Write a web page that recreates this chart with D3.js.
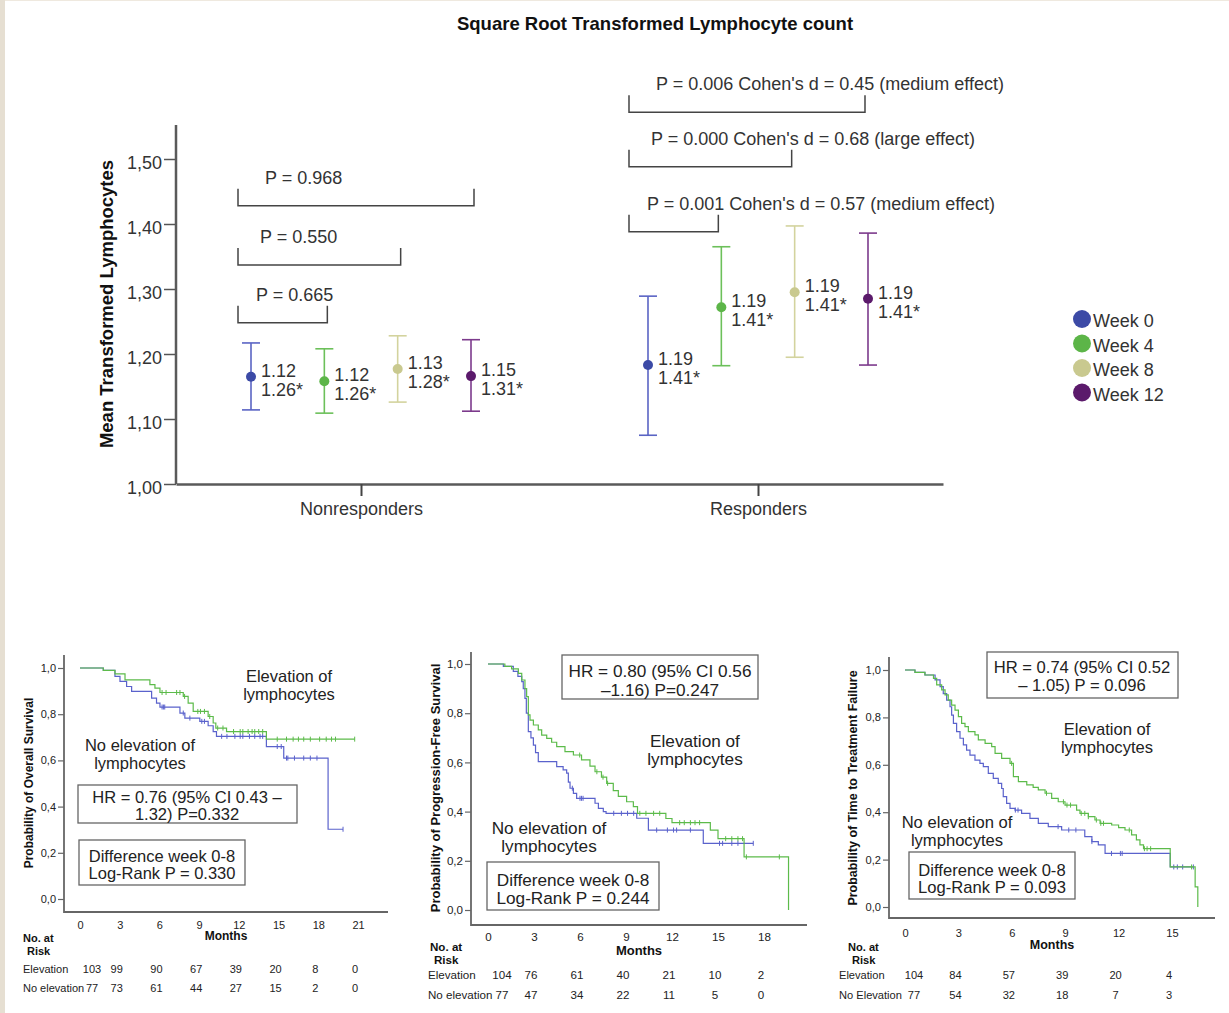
<!DOCTYPE html>
<html lang="en">
<head>
<meta charset="UTF-8">
<title>Square Root Transformed Lymphocyte count</title>
<script src="https://cdn.jsdelivr.net/npm/d3@7/dist/d3.min.js"></script>
<style>
    body { margin: 0; background: #fff; }
    svg { display: block; font-family: "Liberation Sans", Arial, sans-serif; }
</style>
</head>
<body>
<svg width="1229" height="1013"></svg>
<script>
    // ---------- top chart: means with 95% CI ----------
    var groups = ['Nonresponders', 'Responders'];
    var weeks = ['Week 0', 'Week 4', 'Week 8', 'Week 12'];
    var yTicks = [1.0, 1.1, 1.2, 1.3, 1.4, 1.5];
    var nrMean = [1.165, 1.158, 1.177, 1.166];
    var nrLow = [1.114, 1.109, 1.126, 1.112];
    var nrHigh = [1.217, 1.208, 1.228, 1.222];
    var rMean = [1.183, 1.272, 1.295, 1.285];
    var rLow = [1.075, 1.182, 1.195, 1.183];
    var rHigh = [1.289, 1.365, 1.397, 1.386];
    var nrLabels = [['1.12', '1.26*'], ['1.12', '1.26*'], ['1.13', '1.28*'], ['1.15', '1.31*']];
    var rLabels = [['1.19', '1.41*'], ['1.19', '1.41*'], ['1.19', '1.41*'], ['1.19', '1.41*']];
    // [from week, to week, bracket level, text]
    var nrTests = [[0, 3, 1.428, 'P = 0.968'], [0, 2, 1.337, 'P = 0.550'], [0, 1, 1.248, 'P = 0.665']];
    var rTests = [[0, 3, 1.572, "P = 0.006 Cohen's d = 0.45 (medium effect)"],
                  [0, 2, 1.488, "P = 0.000 Cohen's d = 0.68 (large effect)"],
                  [0, 1, 1.388, "P = 0.001 Cohen's d = 0.57 (medium effect)"]];

    // ---------- Kaplan-Meier panels ----------
    var kmYTicks = [0, 0.2, 0.4, 0.6, 0.8, 1.0];

    var osMonths = [0, 3, 6, 9, 12, 15, 18, 21];
    var osRiskElev = [103, 99, 90, 67, 39, 20, 8, 0];
    var osRiskNo = [77, 73, 61, 44, 27, 15, 2, 0];
    var osElev = [[0, 1], [1.76, 0.99], [2.64, 0.975], [3.40, 0.949], [5.28, 0.928], [5.66, 0.913], [6.04, 0.894],
        [7.80, 0.877], [8.17, 0.848], [8.55, 0.812], [9.68, 0.79], [10.06, 0.762], [10.26, 0.74], [11.07, 0.725], [14.08, 0.692]];
    var osElevEnd = 20.75;
    var osElevCens = [6.2, 6.5, 7.3, 7.55, 7.9, 8.9, 9.1, 9.4, 9.8, 10.4, 10.8, 11.6, 12.1, 12.3, 12.7, 13.0, 13.2, 13.5, 13.8,
        14.9, 15.6, 16.1, 16.5, 16.9, 17.4, 18.1, 18.6, 19.0, 19.3, 20.75];
    var osNo = [[0, 1], [1.76, 0.99], [2.64, 0.964], [3.02, 0.942], [3.52, 0.92], [3.90, 0.899], [5.41, 0.87], [5.78, 0.848],
        [6.04, 0.831], [7.55, 0.805], [7.92, 0.783], [9.05, 0.769], [9.68, 0.75], [10.06, 0.725], [10.31, 0.704], [14.08, 0.66],
        [15.39, 0.61], [18.74, 0.302]];
    var osNoEnd = 19.87;
    var osNoCens = [6.2, 6.3, 6.4, 7.8, 8.3, 9.2, 9.4, 10.7, 11.1, 11.7, 12.1, 12.3, 12.8, 13.2, 13.6, 13.8, 14.9, 15.2,
        15.6, 15.7, 16.2, 16.9, 17.4, 17.9, 19.87];

    var pfsMonths = [0, 3, 6, 9, 12, 15, 18];
    var pfsRiskElev = [104, 76, 61, 40, 21, 10, 2];
    var pfsRiskNo = [77, 47, 34, 22, 11, 5, 0];
    var pfsElev = [[0, 1], [1.1, 0.99], [1.54, 0.98], [1.98, 0.962], [2.2, 0.935], [2.41, 0.9], [2.52, 0.867], [2.63, 0.793],
        [2.74, 0.772], [2.96, 0.752], [3.28, 0.732], [3.5, 0.711], [3.83, 0.698], [4.15, 0.682], [4.48, 0.664], [5.02, 0.644],
        [5.57, 0.63], [6.1, 0.61], [6.65, 0.585], [6.98, 0.562], [7.4, 0.54], [7.74, 0.515], [8.17, 0.485], [8.5, 0.462],
        [9.04, 0.44], [9.48, 0.42], [9.75, 0.393], [11.6, 0.372], [12.0, 0.355], [14.5, 0.325], [15.0, 0.29], [16.7, 0.216], [19.6, 0]];
    var pfsElevEnd = 19.6;
    var pfsElevCens = [5.98, 7.1, 7.5, 7.8, 9.9, 10.3, 10.8, 11.2, 12.5, 12.8, 13.2, 13.5, 13.8, 15.5, 15.9, 16.3, 16.6, 16.85, 19.0];
    var pfsNo = [[0, 1], [1.0, 0.99], [1.65, 0.97], [1.95, 0.95], [2.2, 0.928], [2.3, 0.9], [2.41, 0.86], [2.5, 0.8], [2.63, 0.725],
        [2.8, 0.7], [2.96, 0.67], [3.1, 0.64], [3.28, 0.603], [4.48, 0.583], [4.9, 0.57], [5.13, 0.556], [5.24, 0.52], [5.35, 0.495],
        [5.57, 0.474], [5.78, 0.454], [6.98, 0.434], [7.2, 0.413], [7.52, 0.4], [7.7, 0.393], [9.7, 0.373], [10.46, 0.325], [14.04, 0.271]];
    var pfsNoEnd = 17.3;
    var pfsNoCens = [5.5, 6.0, 6.1, 6.2, 8.2, 8.7, 9.1, 9.5, 11.0, 11.7, 12.1, 12.3, 13.2, 15.1, 15.3, 15.9, 16.3, 17.3];

    var ttfMonths = [0, 3, 6, 9, 12, 15];
    var ttfRiskElev = [104, 84, 57, 39, 20, 4];
    var ttfRiskNo = [77, 54, 32, 18, 7, 3];
    var ttfElev = [[0, 1], [0.56, 0.99], [1.12, 0.979], [1.6, 0.965], [1.78, 0.937], [2.06, 0.916], [2.25, 0.895], [2.43, 0.873],
        [2.62, 0.852], [2.81, 0.831], [3.0, 0.803], [3.18, 0.775], [3.37, 0.761], [3.56, 0.74], [3.93, 0.726], [4.12, 0.705],
        [4.5, 0.69], [4.87, 0.677], [5.06, 0.648], [5.43, 0.627], [5.9, 0.606], [6.09, 0.55], [6.37, 0.529], [6.84, 0.515],
        [7.2, 0.505], [7.49, 0.494], [7.87, 0.48], [8.24, 0.458], [8.61, 0.444], [8.99, 0.43], [9.64, 0.409], [9.83, 0.395],
        [10.3, 0.381], [10.67, 0.367], [10.96, 0.353], [11.61, 0.346], [12.0, 0.335], [12.36, 0.325], [12.73, 0.304], [13.0, 0.283],
        [13.2, 0.262], [13.4, 0.246], [14.9, 0.169], [16.3, 0.085], [16.45, 0]];
    var ttfElevEnd = 16.45;
    var ttfElevCens = [5.99, 7.95, 8.9, 9.1, 9.3, 9.9, 10.1, 10.3, 10.75, 11.0, 11.15, 12.6, 13.45, 13.6, 13.8, 16.1];
    var ttfNo = [[0, 1], [0.56, 0.99], [1.12, 0.979], [1.69, 0.958], [1.97, 0.93], [2.15, 0.9], [2.34, 0.873], [2.53, 0.845],
        [2.62, 0.81], [2.72, 0.775], [2.9, 0.74], [3.09, 0.712], [3.28, 0.684], [3.46, 0.662], [3.65, 0.641], [3.93, 0.62],
        [4.21, 0.606], [4.4, 0.592], [4.68, 0.564], [4.96, 0.543], [5.24, 0.522], [5.43, 0.5], [5.52, 0.466], [5.71, 0.437],
        [5.9, 0.416], [6.18, 0.409], [6.55, 0.395], [7.02, 0.374], [7.49, 0.353], [8.05, 0.339], [8.8, 0.325], [10.1, 0.297],
        [10.5, 0.276], [10.86, 0.262], [11.24, 0.226], [14.9, 0.169]];
    var ttfNoEnd = 16.2;
    var ttfNoCens = [6.2, 6.35, 8.6, 9.2, 9.6, 10.5, 11.6, 12.1, 12.2, 15.1, 15.3, 15.6, 16.2];

    // ---------- drawing ----------
    var FONT = '"Liberation Sans", Arial, sans-serif';
    var dotColor = ['#3c4aa6', '#5cb548', '#c9c98f', '#5b1a6b'];
    var barColor = ['#5a64c4', '#6cc05a', '#d3d39e', '#7c3a8c'];
    var kmGreen = '#5cbb4a', kmBlue = '#5a62cc';

    var svg = d3.select('svg');

    // page edge (beige strip on the left)
    svg.append('rect').attr('x', 0).attr('y', 0).attr('width', 1229).attr('height', 1).attr('fill', '#efe9df');
    svg.append('rect').attr('x', 0).attr('y', 0).attr('width', 5).attr('height', 1013).attr('fill', '#e6dfd2');

    var y = d3.scaleLinear().domain([1, 1.5]).range([484, 159]);
    var x0 = d3.scalePoint().domain(groups).range([176, 943]).padding(0.466);
    var xw = d3.scalePoint().domain(weeks).range([-110, 110]);
    var commaFmt = function(p) {
        return function(d) { return d3.format(p)(d).replace('.', ','); };
    };

    var chartG = svg.append('g');

    chartG.append('text')
        .attr('x', 655).attr('y', 30)
        .attr('text-anchor', 'middle')
        .style('font-size', '18.5px').style('font-weight', 'bold').attr('fill', '#111')
        .text('Square Root Transformed Lymphocyte count');

    var yAx = chartG.append('g')
        .attr('transform', 'translate(176,0)')
        .call(d3.axisLeft(y).tickValues(yTicks).tickFormat(commaFmt('.2f')).tickSize(12).tickPadding(2).tickSizeOuter(0));
    yAx.select('.domain').remove();
    yAx.attr('font-family', FONT).attr('font-size', 18);
    yAx.selectAll('line').attr('stroke', '#555').attr('stroke-width', 1.5);
    yAx.selectAll('text').attr('fill', '#333').attr('dy', '0.5em');

    chartG.append('line')
        .attr('x1', 176).attr('x2', 176).attr('y1', 125).attr('y2', y(1))
        .attr('stroke', '#5a5a5a').attr('stroke-width', 2.5);

    var xAx = chartG.append('g')
        .attr('transform', 'translate(0,' + y(1) + ')')
        .call(d3.axisBottom(x0).tickSize(12).tickPadding(6).tickSizeOuter(0));
    xAx.attr('font-family', FONT).attr('font-size', 18);
    xAx.select('.domain').attr('stroke', '#5a5a5a').attr('stroke-width', 2.5);
    xAx.selectAll('line').attr('stroke', '#444').attr('stroke-width', 2);
    xAx.selectAll('text').attr('fill', '#333');

    chartG.append('text')
        .attr('transform', 'translate(113,304) rotate(-90)')
        .attr('text-anchor', 'middle')
        .style('font-size', '18.5px').style('font-weight', 'bold').attr('fill', '#111')
        .text('Mean Transformed Lymphocytes');

    var means = [nrMean, rMean], lows = [nrLow, rLow], highs = [nrHigh, rHigh];
    var labels = [nrLabels, rLabels], tests = [nrTests, rTests];
    var bracketDx = [[-13, 3], [-19, -3]];
    var textDx = [27, 22, 18];

    var rows = [];
    groups.forEach(function(g, gi) {
        weeks.forEach(function(w, wi) {
            rows.push({ g: g, gi: gi, w: w, wi: wi, mean: means[gi][wi], low: lows[gi][wi], high: highs[gi][wi], lab: labels[gi][wi] });
        });
    });

    var pt = chartG.selectAll('.pt').data(rows).enter().append('g')
        .attr('class', 'pt')
        .attr('transform', function(d) { return 'translate(' + (x0(d.g) + xw(d.w)) + ',0)'; });

    pt.append('line')
        .attr('y1', function(d) { return y(d.low); })
        .attr('y2', function(d) { return y(d.high); })
        .attr('stroke', function(d) { return barColor[d.wi]; }).attr('stroke-width', 1.6);
    pt.append('line').attr('x1', -9).attr('x2', 9)
        .attr('y1', function(d) { return y(d.high); }).attr('y2', function(d) { return y(d.high); })
        .attr('stroke', function(d) { return barColor[d.wi]; }).attr('stroke-width', 1.6);
    pt.append('line').attr('x1', -9).attr('x2', 9)
        .attr('y1', function(d) { return y(d.low); }).attr('y2', function(d) { return y(d.low); })
        .attr('stroke', function(d) { return barColor[d.wi]; }).attr('stroke-width', 1.6);
    pt.append('circle')
        .attr('cy', function(d) { return y(d.mean); })
        .attr('r', 5)
        .attr('fill', function(d) { return dotColor[d.wi]; });

    var lab = pt.append('text')
        .attr('x', 10)
        .attr('y', function(d) { return y(d.mean); })
        .style('font-size', '18px').attr('fill', '#333');
    lab.append('tspan').attr('x', 10).text(function(d) { return d.lab[0]; });
    lab.append('tspan').attr('x', 10).attr('dy', 19).text(function(d) { return d.lab[1]; });

    // comparison brackets
    groups.forEach(function(g, gi) {
        tests[gi].forEach(function(t, ti) {
            var xl = x0(g) + xw(weeks[t[0]]) + bracketDx[gi][0];
            var xr = x0(g) + xw(weeks[t[1]]) + bracketDx[gi][1];
            var yb = y(t[2]);
            chartG.append('path')
                .attr('d', 'M' + xl + ',' + (yb - 17) + 'V' + yb + 'H' + xr + 'V' + (yb - 17))
                .attr('fill', 'none').attr('stroke', '#444').attr('stroke-width', 1.5);
            chartG.append('text')
                .attr('x', xl + textDx[ti]).attr('y', yb - 22)
                .style('font-size', '18px').attr('fill', '#333')
                .text(t[3]);
        });
    });

    // legend
    var leg = chartG.selectAll('.leg').data(weeks).enter().append('g')
        .attr('class', 'leg')
        .attr('transform', function(d, i) { return 'translate(1082,' + (319 + i * 24.5) + ')'; });
    leg.append('circle').attr('r', 9).attr('fill', function(d, i) { return dotColor[i]; });
    leg.append('text').attr('x', 11).attr('y', 8)
        .style('font-size', '18px').attr('fill', '#333')
        .text(function(d) { return d; });

    // ---------- KM panels ----------
    var panels = [
        {
            title: 'Probability of Overall Survival', months: osMonths, xMax: 21,
            rowNames: ['Elevation', 'No elevation'], risk: [osRiskElev, osRiskNo],
            elev: osElev, elevEnd: osElevEnd, elevCens: osElevCens, no: osNo, noEnd: osNoEnd, noCens: osNoCens,
            hr: ['HR = 0.76 (95% CI 0.43 \u2013', '1.32) P=0.332'], diff: ['Difference week 0-8', 'Log-Rank P = 0.330'],
            axisX: 64, axisTop: 655, axisY: 912, axisRight: 388, xRange: [80, 358], yRange: [899, 668],
            fsTick: 11, fsTitle: 12, fsNote: 16.5, tickGap: 17, monthsY: 940,
            noAtX: 23, noAtY: [942, 955], rowX: 23, rowY: [973, 992], col0: 12,
            yTitle: [33, 783], elevTxt: [289, 682], noTxt: [140, 751], lineH: 17.5,
            hrBox: [78, 785, 297, 823], hrTxt: [187, 803, 17], diffBox: [79, 840, 245, 885], diffTxt: [162, 862, 16.5]
        },
        {
            title: 'Probability of Progression-Free Survival', months: pfsMonths, xMax: 18,
            rowNames: ['Elevation', 'No elevation'], risk: [pfsRiskElev, pfsRiskNo],
            elev: pfsElev, elevEnd: pfsElevEnd, elevCens: pfsElevCens, no: pfsNo, noEnd: pfsNoEnd, noCens: pfsNoCens,
            hr: ['HR = 0.80 (95% CI 0.56', '\u20131.16) P=0.247'], diff: ['Difference week 0-8', 'Log-Rank P = 0.244'],
            axisX: 471, axisTop: 652, axisY: 925, axisRight: 807, xRange: [488, 764], yRange: [910, 664],
            fsTick: 11.6, fsTitle: 13, fsNote: 17.2, tickGap: 16, monthsY: 955,
            noAtX: 430, noAtY: [951, 964], rowX: 428, rowY: [979, 999], col0: 14,
            yTitle: [440, 788], elevTxt: [695, 747], noTxt: [549, 834], lineH: 18,
            hrBox: [562, 655, 758, 699], hrTxt: [660, 677, 19], diffBox: [487, 862, 659, 910], diffTxt: [573, 886, 18]
        },
        {
            title: 'Probability of Time to Treatment Failure', months: ttfMonths, xMax: 15,
            rowNames: ['Elevation', 'No Elevation'], risk: [ttfRiskElev, ttfRiskNo],
            elev: ttfElev, elevEnd: ttfElevEnd, elevCens: ttfElevCens, no: ttfNo, noEnd: ttfNoEnd, noCens: ttfNoCens,
            hr: ['HR = 0.74 (95% CI 0.52', '\u2013 1.05) P = 0.096'], diff: ['Difference week 0-8', 'Log-Rank P = 0.093'],
            axisX: 889, axisTop: 657, axisY: 918, axisRight: 1215, xRange: [905, 1172], yRange: [907, 670],
            fsTick: 11.1, fsTitle: 12.5, fsNote: 16.6, tickGap: 19, monthsY: 949,
            noAtX: 848, noAtY: [951, 964], rowX: 839, rowY: [979, 999], col0: 9,
            yTitle: [857, 788], elevTxt: [1107, 735], noTxt: [957, 828], lineH: 17.5,
            hrBox: [987, 652, 1178, 698], hrTxt: [1082, 673, 18], diffBox: [909, 852, 1075, 899], diffTxt: [992, 876, 17]
        }
    ];

    var bisect = d3.bisector(function(d) { return d[0]; }).right;

    function twoLines(g, pos, lines, dy, fs, anchor) {
        var t = g.append('text')
            .attr('x', pos[0]).attr('y', pos[1])
            .attr('text-anchor', anchor || 'middle')
            .style('font-size', fs + 'px').attr('fill', '#222');
        t.append('tspan').attr('x', pos[0]).text(lines[0]);
        t.append('tspan').attr('x', pos[0]).attr('dy', dy).text(lines[1]);
        return t;
    }

    function drawKM(p) {
        var g = svg.append('g');
        var x = d3.scaleLinear().domain([0, p.xMax]).range(p.xRange);
        var yk = d3.scaleLinear().domain([0, 1]).range(p.yRange);

        // annotation boxes
        [p.hrBox, p.diffBox].forEach(function(b) {
            g.append('rect')
                .attr('x', b[0]).attr('y', b[1]).attr('width', b[2] - b[0]).attr('height', b[3] - b[1])
                .attr('fill', '#fff').attr('stroke', '#666').attr('stroke-width', 1.3);
        });
        twoLines(g, p.hrTxt, p.hr, p.hrTxt[2], p.fsNote);
        twoLines(g, p.diffTxt, p.diff, p.diffTxt[2], p.fsNote);
        twoLines(g, p.elevTxt, ['Elevation of', 'lymphocytes'], p.lineH, p.fsNote);
        twoLines(g, p.noTxt, ['No elevation of', 'lymphocytes'], p.lineH, p.fsNote);

        // axes
        var ya = g.append('g')
            .attr('transform', 'translate(' + p.axisX + ',0)')
            .call(d3.axisLeft(yk).tickValues(kmYTicks).tickFormat(commaFmt('.1f')).tickSize(6).tickPadding(2).tickSizeOuter(0));
        ya.select('.domain').remove();
        ya.attr('font-family', FONT).attr('font-size', p.fsTick);
        ya.selectAll('line').attr('stroke', '#666').attr('stroke-width', 1.2);
        ya.selectAll('text').attr('fill', '#222');

        var xa = g.append('g')
            .attr('transform', 'translate(0,' + p.axisY + ')')
            .call(d3.axisBottom(x).tickValues(p.months).tickSize(0).tickPadding(p.tickGap - 0.71 * p.fsTick));
        xa.select('.domain').remove();
        xa.attr('font-family', FONT).attr('font-size', p.fsTick);
        xa.selectAll('text').attr('fill', '#222');

        g.append('path')
            .attr('d', 'M' + p.axisX + ',' + p.axisTop + 'V' + p.axisY + 'H' + p.axisRight)
            .attr('fill', 'none').attr('stroke', '#666').attr('stroke-width', 1.8);

        g.append('text')
            .attr('transform', 'translate(' + p.yTitle[0] + ',' + p.yTitle[1] + ') rotate(-90)')
            .attr('text-anchor', 'middle')
            .style('font-size', p.fsTitle + 'px').style('font-weight', 'bold').attr('fill', '#111')
            .text(p.title);

        g.append('text')
            .attr('x', (p.axisX + p.axisRight) / 2).attr('y', p.monthsY)
            .attr('text-anchor', 'middle')
            .style('font-size', p.fsTitle + 'px').style('font-weight', 'bold').attr('fill', '#111')
            .text('Months');

        // curves
        var stepLine = d3.line()
            .x(function(d) { return x(d[0]); })
            .y(function(d) { return yk(d[1]); })
            .curve(d3.curveStepAfter);

        [[p.no, p.noEnd, p.noCens, kmBlue], [p.elev, p.elevEnd, p.elevCens, kmGreen]].forEach(function(c) {
            var steps = c[0];
            var pts = steps.concat([[c[1], steps[steps.length - 1][1]]]);
            g.append('path')
                .datum(pts)
                .attr('d', stepLine)
                .attr('fill', 'none').attr('stroke', c[3]).attr('stroke-width', 1.2);
            g.selectAll(null).data(c[2]).enter().append('line')
                .attr('x1', function(t) { return x(t); })
                .attr('x2', function(t) { return x(t); })
                .attr('y1', function(t) { return yk(steps[bisect(steps, t) - 1][1]) - 2.5; })
                .attr('y2', function(t) { return yk(steps[bisect(steps, t) - 1][1]) + 2.5; })
                .attr('stroke', c[3]).attr('stroke-width', 1);
        });

        // number at risk
        var na = g.append('text')
            .attr('x', p.noAtX).attr('y', p.noAtY[0])
            .style('font-size', p.fsTick + 'px').style('font-weight', 'bold').attr('fill', '#111');
        na.append('tspan').attr('x', p.noAtX).text('No. at');
        na.append('tspan').attr('x', p.noAtX + 4).attr('y', p.noAtY[1]).text('Risk');

        p.risk.forEach(function(row, ri) {
            g.append('text')
                .attr('x', p.rowX).attr('y', p.rowY[ri])
                .style('font-size', p.fsTick + 'px').attr('fill', '#222')
                .text(p.rowNames[ri]);
            g.selectAll(null).data(row).enter().append('text')
                .attr('x', function(d, i) { return x(p.months[i]) + (i === 0 ? p.col0 : -3); })
                .attr('y', p.rowY[ri])
                .attr('text-anchor', 'middle')
                .style('font-size', p.fsTick + 'px').attr('fill', '#222')
                .text(function(d) { return d; });
        });
    }

    panels.forEach(drawKM);
</script>
</body>
</html>
